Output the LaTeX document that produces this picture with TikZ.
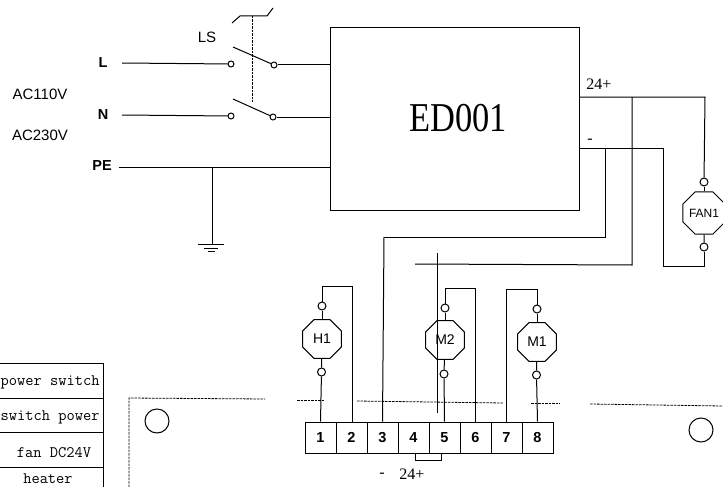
\documentclass[tikz,border=0pt]{standalone}
\usepackage{fontspec}
\setmainfont{Liberation Sans}
\newfontfamily\edfont{Liberation Serif}
\newfontfamily\edwide[FakeStretch=0.84]{Liberation Serif}
\usetikzlibrary{shapes.geometric}
\begin{document}
\begin{tikzpicture}[x=1pt,y=-1pt,line width=1pt,
  lug/.style={circle, draw, fill=white, minimum size=7pt, inner sep=0pt},
  motor/.style={regular polygon, regular polygon sides=8, draw, minimum size=42pt, inner sep=0pt, font=\fontsize{14}{14}\selectfont},
  termcell/.style={draw, minimum width=31pt, minimum height=31pt, inner sep=0pt, font=\bfseries\fontsize{14.5}{14.5}\selectfont},
  tabrow/.style={font=\ttfamily\fontsize{16}{16}\selectfont, inner sep=0pt},
  lbl/.style={font=\fontsize{15}{15}\selectfont, inner sep=0pt},
  lblb/.style={font=\bfseries\fontsize{14.5}{14.5}\selectfont, inner sep=0pt},
  note/.style={font=\edfont\fontsize{16}{16}\selectfont, inner sep=0pt},
  plate/.style={dash pattern=on 2.5pt off 1pt, line width=0.8pt}]
\useasboundingbox (0,0) rectangle (723,487);

\node[draw, minimum width=249pt, minimum height=182pt, inner sep=0pt] (ed) at (455,119){};
\node[font=\edwide\fontsize{41}{41}\selectfont, inner sep=0pt] (edname) at (458,118){ED001};

\node[lbl] (ac110) at (40,94){AC110V};
\node[lbl] (ac230) at (40,135){AC230V};
\node[lblb] (lL) at (103,63){L};
\node[lblb] (lN) at (103,115){N};
\node[lblb] (lPE) at (102,166){PE};
\node[lbl] (lLS) at (207,37){LS};

\node[lug, minimum size=6pt] (l1) at (231,64){};
\node[lug, minimum size=6pt] (l2) at (274,65){};
\node[lug, minimum size=6pt] (n1) at (231,116){};
\node[lug, minimum size=6pt] (n2) at (273,117){};
\coordinate (l1arm) at (233,47);
\coordinate (n1arm) at (233,99);
\coordinate (lLw) at (122,63);
\coordinate (lNw) at (122,115);
\coordinate (lPEw) at (119,167);
\coordinate (gnd) at (212,168);
\draw[](lLw) -- (l1);
\draw[](lNw) -- (n1);
\draw[](l1arm) -- (l2);
\draw[](n1arm) -- (n2);
\draw[](l2) -- (ed.west |- l2);
\draw[](n2) -- (ed.west |- n2);
\draw[](lPEw) -- (ed.west |- lPEw);

\coordinate (gnd1) at (212,244);
\coordinate (gnd1a) at (198,244);
\coordinate (gnd1b) at (224,244);
\coordinate (gnd2a) at (204,248);
\coordinate (gnd2b) at (218,248);
\coordinate (gnd3a) at (208,251);
\coordinate (gnd3b) at (215,251);
\draw[](gnd |- lPEw) -- (gnd1);
\draw[](gnd1a) -- (gnd1b);
\draw[](gnd2a) -- (gnd2b);
\draw[](gnd3a) -- (gnd3b);

\coordinate (ls0) at (232,23);
\coordinate (ls1) at (240,16);
\coordinate (ls2) at (267,16);
\coordinate (ls3) at (273,8);
\coordinate (ls4) at (252,102);
\draw[](ls0) -- (ls1) -- (ls2) -- (ls3);
\draw[plate](ls1 -| ls4) -- (ls4);

\node[note] (p24) at (599,84){24+};
\node[note] (n24) at (590,141){-};
\coordinate (a1) at (580,97);
\coordinate (a2) at (705,97);
\coordinate (a3) at (632,97);
\coordinate (a4) at (632,265);
\coordinate (a5) at (415,264);
\coordinate (b1) at (580,148);
\coordinate (b2) at (663,148);
\coordinate (b3) at (663,266);
\coordinate (b4) at (605,148);
\coordinate (b5) at (605,237);
\coordinate (b6) at (384,237);

\node[motor, font=\fontsize{12}{12}\selectfont] (fan) at (704,213){FAN1};
\node[lug, minimum size=8pt] (fan1) at (704,182){};
\node[lug, minimum size=8pt] (fan2) at (704,247){};
\draw[](a1) -- (a2) -- (fan1);
\draw[](fan1) -- (fan);
\draw[](fan) -- (fan2);
\draw[](fan2) -- (b3 -| fan2) -- (b3) -- (b2) -- (b1);
\draw[](a3) -- (a4) -- (a5);
\draw[](b4) -- (b5) -- (b6);

\node[termcell] (t1) at (320.5,437.5){1};
\node[termcell] (t2) at (351.5,437.5){2};
\node[termcell] (t3) at (382.5,437.5){3};
\node[termcell] (t4) at (413.5,437.5){4};
\node[termcell] (t5) at (444.5,437.5){5};
\node[termcell] (t6) at (475.5,437.5){6};
\node[termcell] (t7) at (506.5,437.5){7};
\node[termcell] (t8) at (537.5,437.5){8};
\coordinate (j1) at (415,460);
\coordinate (j2) at (441,460);
\draw[](t4.south -| j1) -- (j1) -- (j2) -- (t5.south -| j2);
\node[note] (tm) at (382,475){-};
\node[note] (tp) at (412,474){24+};

\draw[](b6) -- (t3.north);
\coordinate (a6) at (437,253);
\coordinate (a7) at (437,413);
\draw[](a6) -- (a7);

\node[motor] (h1) at (322,339){H1};
\node[lug, minimum size=8pt] (h1a) at (322,306){};
\node[lug, minimum size=8pt] (h1b) at (321.5,372){};
\coordinate (h1c) at (322,286);
\coordinate (h1d) at (352,286);
\draw[](h1a) -- (h1);
\draw[](h1) -- (h1b);
\draw[](h1a) -- (h1c) -- (h1d) -- (t2.north -| h1d);
\draw[](h1b) -- (t1.north);

\node[motor] (m2) at (445,340){M2};
\node[lug, minimum size=8pt] (m2a) at (445,308){};
\node[lug, minimum size=8pt] (m2b) at (444,374){};
\coordinate (m2c) at (445,288);
\coordinate (m2d) at (475.5,288);
\draw[](m2a) -- (m2);
\draw[](m2) -- (m2b);
\draw[](m2a) -- (m2c) -- (m2d) -- (t6.north);
\draw[](m2b) -- (t5.north);

\node[motor] (m1) at (537,342){M1};
\node[lug, minimum size=8pt] (m1a) at (537,309){};
\node[lug, minimum size=8pt] (m1b) at (536.5,375){};
\coordinate (m1c) at (537,289);
\coordinate (m1d) at (506.5,289);
\draw[](m1a) -- (m1);
\draw[](m1) -- (m1b);
\draw[](m1a) -- (m1c) -- (m1d) -- (t7.north);
\draw[](m1b) -- (t8.north);

\coordinate (tab0) at (0,363);
\coordinate (tab1) at (0,398);
\coordinate (tab2) at (0,432);
\coordinate (tab3) at (0,467);
\coordinate (tabr0) at (103,363);
\coordinate (tabr1) at (103,398);
\coordinate (tabr2) at (103,432);
\coordinate (tabr3) at (103,467);
\coordinate (tabr4) at (103,487);
\draw[](tab0) -- (tabr0);
\draw[](tab1) -- (tabr1);
\draw[](tab2) -- (tabr2);
\draw[](tab3) -- (tabr3);
\draw[](tabr0) -- (tabr4);
\node[tabrow, anchor=east] (row1) at (100,382){power switch};
\node[tabrow, anchor=east] (row2) at (100,417){switch power};
\node[tabrow] (row3) at (54,453){fan DC24V};
\node[tabrow] (row4) at (48,479){heater};

\node[circle, draw, minimum size=24pt, inner sep=0pt] (hole1) at (157,421){};
\node[circle, draw, minimum size=24pt, inner sep=0pt] (hole2) at (701,430){};
\coordinate (pl0) at (129,487);
\coordinate (pl1) at (129,398);
\coordinate (pl2) at (265,399);
\coordinate (pl3) at (297,400);
\coordinate (pl4) at (325,400);
\coordinate (pl5) at (357,401);
\coordinate (pl6) at (503,403);
\coordinate (pl7) at (531,403);
\coordinate (pl8) at (560,403);
\coordinate (pl9) at (590,404);
\coordinate (pl10) at (723,406);
\draw[plate](pl0) -- (pl1) -- (pl2);
\draw[plate](pl3) -- (pl4);
\draw[plate](pl5) -- (pl6);
\draw[plate](pl7) -- (pl8);
\draw[plate](pl9) -- (pl10);
\end{tikzpicture}
\end{document}
